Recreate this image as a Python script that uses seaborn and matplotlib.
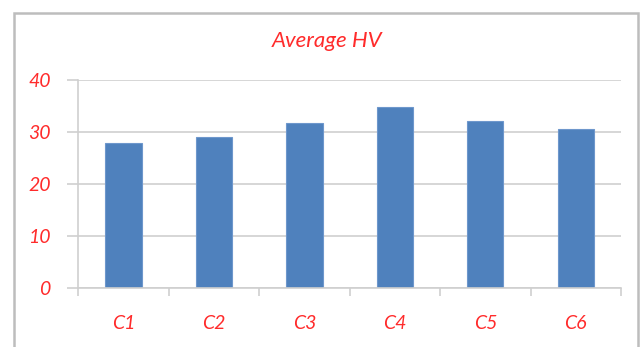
import matplotlib.pyplot as plt
import seaborn as sns
import pandas as pd
import numpy as np
from matplotlib.patches import Rectangle

plt.switch_backend('Agg')

# values
categories = ['C1', 'C2', 'C3', 'C4', 'C5', 'C6']
avg_hv = [27.9, 29.1, 31.8, 34.8, 32.1, 30.6]
y_ticks = [0, 10, 20, 30, 40]

df = pd.DataFrame({'cat': categories, 'hv': avg_hv})

sns.set_theme(style='white')
plt.rcParams['font.family'] = ['Lato', 'DejaVu Sans']

red = '#FF2B2B'
grid_c = '#CFCFCF'

fig = plt.figure(figsize=(6.43, 3.47), dpi=100)
ax = fig.add_axes([0.1218, 0.1709, 0.844, 0.5986])

sns.barplot(data=df, x='cat', y='hv', color='#4F81BD', width=0.4,
            edgecolor='#6E97CC', linewidth=0.8, saturation=1, ax=ax)

ax.set_ylim(0, 40)
ax.set_xlim(-0.5, len(categories) - 0.5)
ax.set_yticks(y_ticks)
ax.yaxis.grid(True, color=grid_c, linewidth=1.2)
ax.set_axisbelow(True)

for s in ['top', 'right']:
    ax.spines[s].set_visible(False)
for s in ['left', 'bottom']:
    ax.spines[s].set_color(grid_c)
    ax.spines[s].set_linewidth(1.2)

ax.set_xlabel('')
ax.set_ylabel('')
ax.tick_params(axis='y', length=8, width=1.2, color=grid_c, pad=12,
               labelsize=14, labelcolor=red, left=True)
ax.tick_params(axis='x', which='major', length=0, pad=20,
               labelsize=14, labelcolor=red)
ax.set_xticks(np.arange(-0.5, len(categories)), minor=True)
ax.tick_params(axis='x', which='minor', length=6, width=1.2, color=grid_c,
               bottom=True)
for lab in ax.get_xticklabels() + ax.get_yticklabels():
    lab.set_fontstyle('italic')

fig.text(0.508, 0.882, 'Average HV', ha='center', va='center',
         fontsize=16, color=red, fontstyle='italic')

# chart frame
fig.patches.append(Rectangle((14 / 643, -0.05), 624 / 643, 1 - 13 / 347 + 0.05,
                             transform=fig.transFigure, fill=False,
                             edgecolor='#BDBDBD', linewidth=1.8))

fig.savefig('out.png', dpi=100)
